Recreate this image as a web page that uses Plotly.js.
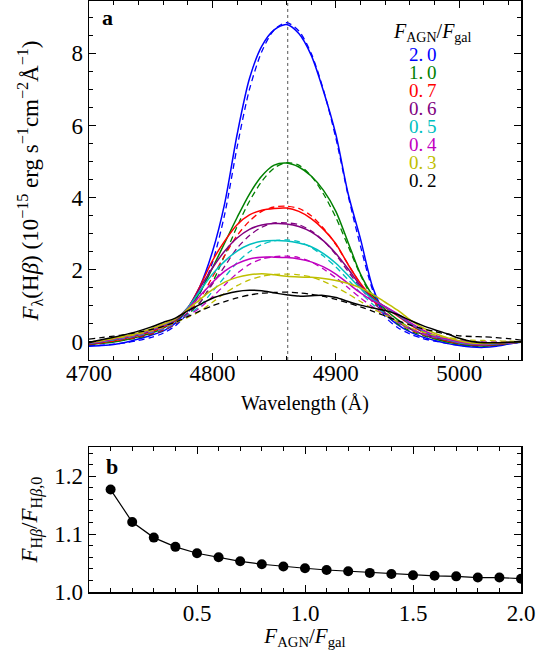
<!DOCTYPE html>
<html>
<head>
<meta charset="utf-8">
<script src="https://cdn.plot.ly/plotly-3.0.1.min.js"></script>
<style>
html,body{margin:0;padding:0;background:#fff;}
#chart{width:537px;height:650px;}
#chart svg text{font-family:"Liberation Serif","DejaVu Serif",serif !important;}
</style>
</head>
<body>
<div id="chart"></div>
<script>
// ---------- data ----------
const WAVELENGTH = [4700,4710,4720,4730,4740,4750,4760,4770,4780,4790,4800,4810,4820,4830,4840,4850,4860,4870,4880,4890,4900,4910,4920,4930,4940,4950,4960,4970,4980,4990,5000,5010,5020,5030,5040,5050];
const HBETA = 4861;

const RATIO_LABELS = ['2.\u20090','1.\u20090','0.\u20097','0.\u20096','0.\u20095','0.\u20094','0.\u20093','0.\u20092'];
const COLORS = ['#0000ff','#008000','#ff0000','#800080','#00bfbf','#bf00bf','#bfbf00','#000000'];

const SOLID_20 = [-0.12,-0.10,-0.07,-0.01,0.08,0.18,0.30,0.52,0.92,1.55,2.50,3.85,5.75,7.30,8.20,8.65,8.80,8.55,7.95,6.95,5.75,4.10,2.85,1.50,0.78,0.48,0.28,0.14,0.04,-0.04,-0.10,-0.14,-0.15,-0.12,-0.06,-0.01];
const DASH_20  = [-0.10,-0.09,-0.06,-0.02,0.04,0.12,0.24,0.45,0.80,1.35,2.20,3.55,5.40,7.00,8.05,8.65,8.85,8.62,8.00,6.98,5.65,4.05,2.65,1.42,0.70,0.40,0.22,0.10,0.02,-0.04,-0.09,-0.12,-0.12,-0.09,-0.05,-0.01];
const SOLID_10 = [-0.08,-0.04,0.00,0.06,0.14,0.24,0.38,0.58,0.90,1.38,2.05,2.75,3.45,4.10,4.60,4.90,4.96,4.85,4.60,4.20,3.62,2.75,1.88,1.28,0.90,0.62,0.38,0.21,0.09,0.00,-0.06,-0.10,-0.11,-0.08,-0.04,0.00];
const DASH_10  = [-0.06,-0.03,0.01,0.06,0.12,0.20,0.32,0.50,0.76,1.10,1.65,2.40,3.20,3.90,4.45,4.82,4.97,4.90,4.60,4.10,3.45,2.65,1.85,1.20,0.78,0.50,0.31,0.18,0.09,0.03,-0.01,-0.04,-0.05,-0.04,-0.02,0.00];
const SOLID_07 = [-0.06,-0.02,0.03,0.10,0.18,0.28,0.41,0.60,0.94,1.55,2.25,2.80,3.25,3.52,3.65,3.70,3.71,3.62,3.42,3.12,2.72,2.14,1.62,1.22,0.96,0.72,0.48,0.28,0.13,0.03,-0.04,-0.08,-0.09,-0.07,-0.03,0.00];
const DASH_07  = [-0.04,-0.01,0.03,0.08,0.14,0.22,0.33,0.50,0.80,1.20,1.80,2.40,2.95,3.35,3.62,3.74,3.76,3.70,3.50,3.15,2.70,2.15,1.60,1.15,0.82,0.55,0.35,0.21,0.11,0.05,0.01,-0.02,-0.03,-0.02,-0.01,0.00];
const SOLID_06 = [-0.05,0.00,0.06,0.12,0.20,0.31,0.44,0.62,0.95,1.50,2.05,2.52,2.88,3.12,3.24,3.28,3.27,3.20,3.05,2.80,2.45,2.02,1.56,1.20,0.97,0.74,0.50,0.30,0.15,0.05,-0.03,-0.07,-0.08,-0.06,-0.03,0.00];
const DASH_06  = [-0.03,0.01,0.05,0.10,0.16,0.24,0.34,0.50,0.80,1.10,1.60,2.10,2.60,2.95,3.18,3.30,3.30,3.25,3.08,2.80,2.42,1.95,1.50,1.10,0.80,0.55,0.36,0.22,0.12,0.06,0.02,-0.01,-0.02,-0.02,-0.01,0.00];
const SOLID_05 = [-0.04,0.01,0.07,0.14,0.22,0.33,0.46,0.63,0.95,1.42,1.88,2.24,2.52,2.70,2.79,2.81,2.80,2.74,2.64,2.45,2.18,1.84,1.48,1.18,0.97,0.76,0.52,0.32,0.17,0.07,-0.02,-0.06,-0.07,-0.05,-0.02,0.00];
const DASH_05  = [-0.02,0.02,0.06,0.11,0.18,0.26,0.36,0.52,0.75,1.00,1.40,1.80,2.20,2.50,2.70,2.80,2.83,2.78,2.62,2.38,2.08,1.72,1.36,1.04,0.78,0.55,0.37,0.23,0.13,0.07,0.03,0.00,-0.01,-0.01,0.00,0.00];
const SOLID_04 = [-0.03,0.02,0.08,0.15,0.23,0.34,0.47,0.64,0.92,1.28,1.65,1.96,2.17,2.30,2.35,2.35,2.34,2.30,2.22,2.08,1.88,1.62,1.36,1.14,0.98,0.78,0.54,0.34,0.19,0.09,0.00,-0.05,-0.06,-0.04,-0.02,0.00];
const DASH_04  = [-0.01,0.03,0.08,0.13,0.20,0.28,0.38,0.53,0.72,0.95,1.25,1.58,1.90,2.15,2.30,2.36,2.38,2.34,2.22,2.02,1.78,1.50,1.22,0.97,0.75,0.55,0.38,0.24,0.14,0.08,0.04,0.01,0.00,0.00,0.00,0.00];
const SOLID_03 = [-0.02,0.03,0.10,0.17,0.25,0.36,0.49,0.64,0.90,1.18,1.45,1.66,1.79,1.86,1.89,1.86,1.82,1.80,1.79,1.76,1.70,1.62,1.50,1.32,1.10,0.88,0.62,0.40,0.24,0.12,0.03,-0.03,-0.04,-0.03,-0.01,0.00];
const DASH_03  = [0.00,0.04,0.09,0.15,0.22,0.30,0.40,0.54,0.68,0.85,1.10,1.35,1.56,1.72,1.82,1.87,1.88,1.86,1.80,1.68,1.52,1.33,1.12,0.92,0.74,0.56,0.40,0.28,0.19,0.12,0.08,0.05,0.04,0.03,0.02,0.01];
const SOLID_02 = [-0.02,0.06,0.13,0.21,0.30,0.41,0.54,0.66,0.86,1.04,1.21,1.32,1.40,1.43,1.42,1.36,1.31,1.27,1.28,1.29,1.23,1.12,1.02,0.94,0.87,0.76,0.60,0.46,0.34,0.23,0.10,0.01,-0.02,-0.02,-0.01,0.00];
const DASH_02  = [0.08,0.12,0.16,0.21,0.27,0.34,0.43,0.55,0.70,0.86,1.00,1.12,1.22,1.30,1.35,1.37,1.38,1.36,1.32,1.26,1.18,1.08,0.97,0.85,0.72,0.59,0.47,0.37,0.29,0.22,0.17,0.15,0.14,0.12,0.09,0.05];

const SOLID = [SOLID_20,SOLID_10,SOLID_07,SOLID_06,SOLID_05,SOLID_04,SOLID_03,SOLID_02];
const DASHED = [DASH_20,DASH_10,DASH_07,DASH_06,DASH_05,DASH_04,DASH_03,DASH_02];

// panel b
const RATIO_B = [0.1,0.2,0.3,0.4,0.5,0.6,0.7,0.8,0.9,1.0,1.1,1.2,1.3,1.4,1.5,1.6,1.7,1.8,1.9,2.0];
const FLUX_RATIO = [1.177,1.121,1.094,1.078,1.067,1.060,1.053,1.048,1.044,1.041,1.038,1.036,1.033,1.031,1.029,1.028,1.027,1.025,1.025,1.023];

// ---------- plot ----------
const FONT = '"Liberation Serif", "DejaVu Serif", serif';
const traces = [];
for (let i = 0; i < SOLID.length; i++) {
  traces.push({x: WAVELENGTH, y: DASHED[i], type: 'scatter', mode: 'lines', xaxis: 'x', yaxis: 'y',
    line: {color: COLORS[i], width: 1.3, dash: '6px,4px', shape: 'spline', smoothing: 0.8}, showlegend: false, hoverinfo: 'skip'});
  traces.push({x: WAVELENGTH, y: SOLID[i], type: 'scatter', mode: 'lines', xaxis: 'x', yaxis: 'y',
    line: {color: COLORS[i], width: 1.5, shape: 'spline', smoothing: 0.8}, showlegend: false, hoverinfo: 'skip'});
}
traces.push({x: RATIO_B, y: FLUX_RATIO, type: 'scatter', mode: 'lines+markers', xaxis: 'x2', yaxis: 'y2',
  line: {color: '#000', width: 1.2}, marker: {color: '#000', size: 10}, showlegend: false});

function axisBase() {
  return {
    showline: true, linecolor: '#000', linewidth: 1.5, mirror: 'allticks',
    ticks: 'inside', ticklen: 7, tickwidth: 1, tickcolor: '#000',
    showgrid: false, zeroline: false,
    tickfont: {family: FONT, size: 23, color: '#000'}
  };
}

const annotations = [
  {xref: 'x domain', yref: 'y domain', x: 0.042, y: 0.953, xanchor: 'center', yanchor: 'middle',
   text: '<b>a</b>', showarrow: false, font: {family: FONT, size: 22, color: '#000'}},
  {xref: 'x2 domain', yref: 'y2 domain', x: 0.053, y: 0.864, xanchor: 'center', yanchor: 'middle',
   text: '<b>b</b>', showarrow: false, font: {family: FONT, size: 22, color: '#000'}},
  {xref: 'x domain', yref: 'y domain', x: 0.796, y: (360 - 33) / 359, xanchor: 'center', yanchor: 'middle',
   text: '<i>F</i><sub>AGN</sub>/<i>F</i><sub>gal</sub>', showarrow: false,
   font: {family: FONT, size: 20, color: '#000'}}
];
for (let i = 0; i < RATIO_LABELS.length; i++) {
  annotations.push({xref: 'x domain', yref: 'y domain', x: 0.773, y: (360 - (55 + 18 * i)) / 359,
    xanchor: 'center', yanchor: 'middle',
    text: RATIO_LABELS[i], showarrow: false, font: {family: FONT, size: 19, color: COLORS[i]}});
}

const layout = {
  width: 537, height: 650,
  margin: {l: 89, r: 16, t: 1, b: 58},
  paper_bgcolor: '#fff', plot_bgcolor: '#fff',
  font: {family: FONT, color: '#000'},
  xaxis: Object.assign(axisBase(), {
    domain: [0, 1], anchor: 'y', range: [4700, 5050],
    tickvals: [4700, 4800, 4900, 5000], ticklabelstandoff: -8,
    minor: {dtick: 20, tick0: 4700, ticklen: 4, ticks: 'inside', tickcolor: '#000', tickwidth: 1},
    title: {text: 'Wavelength (Å)', font: {family: FONT, size: 20}, standoff: 11}
  }),
  yaxis: Object.assign(axisBase(), {
    domain: [0.3926, 1], anchor: 'x', range: [-0.5, 9.45],
    tickvals: [0, 2, 4, 6, 8],
    minor: {dtick: 0.5, tick0: 0, ticklen: 4, ticks: 'inside', tickcolor: '#000', tickwidth: 1},
    title: {text: '<i>F</i><sub>λ</sub>(H<i>β</i>) (10<sup>−15</sup> erg s<sup>−1</sup>cm<sup>−2</sup>Å<sup>−1</sup>)',
            font: {family: FONT, size: 23}, standoff: 26}
  }),
  xaxis2: Object.assign(axisBase(), {
    domain: [0, 1], anchor: 'y2', range: [0, 2.0],
    tickvals: [0.5, 1.0, 1.5, 2.0], ticktext: ['0.5', '1.0', '1.5', '2.0'],
    minor: {dtick: 0.1, tick0: 0, ticklen: 4, ticks: 'inside', tickcolor: '#000', tickwidth: 1},
    title: {text: '<i>F</i><sub>AGN</sub>/<i>F</i><sub>gal</sub>', font: {family: FONT, size: 21}, standoff: 6}
  }),
  yaxis2: Object.assign(axisBase(), {
    domain: [0, 0.2448], anchor: 'x2', range: [1.0, 1.25],
    tickvals: [1.0, 1.1, 1.2], ticktext: ['1.0', '1.1', '1.2'],
    minor: {dtick: 0.02, tick0: 1.0, ticklen: 4, ticks: 'inside', tickcolor: '#000', tickwidth: 1},
    title: {text: '<i>F</i><sub>H<i>β</i></sub>/<i>F</i><sub>H<i>β</i>,0</sub>', font: {family: FONT, size: 23}, standoff: 10}
  }),
  shapes: [
    {type: 'line', xref: 'x', yref: 'y domain', x0: HBETA, x1: HBETA, y0: 0, y1: 1,
     line: {color: '#555', width: 1, dash: 'dot'}, layer: 'below'}
  ],
  annotations: annotations
};

Plotly.newPlot('chart', traces, layout, {displayModeBar: false, staticPlot: true});
</script>
</body>
</html>
